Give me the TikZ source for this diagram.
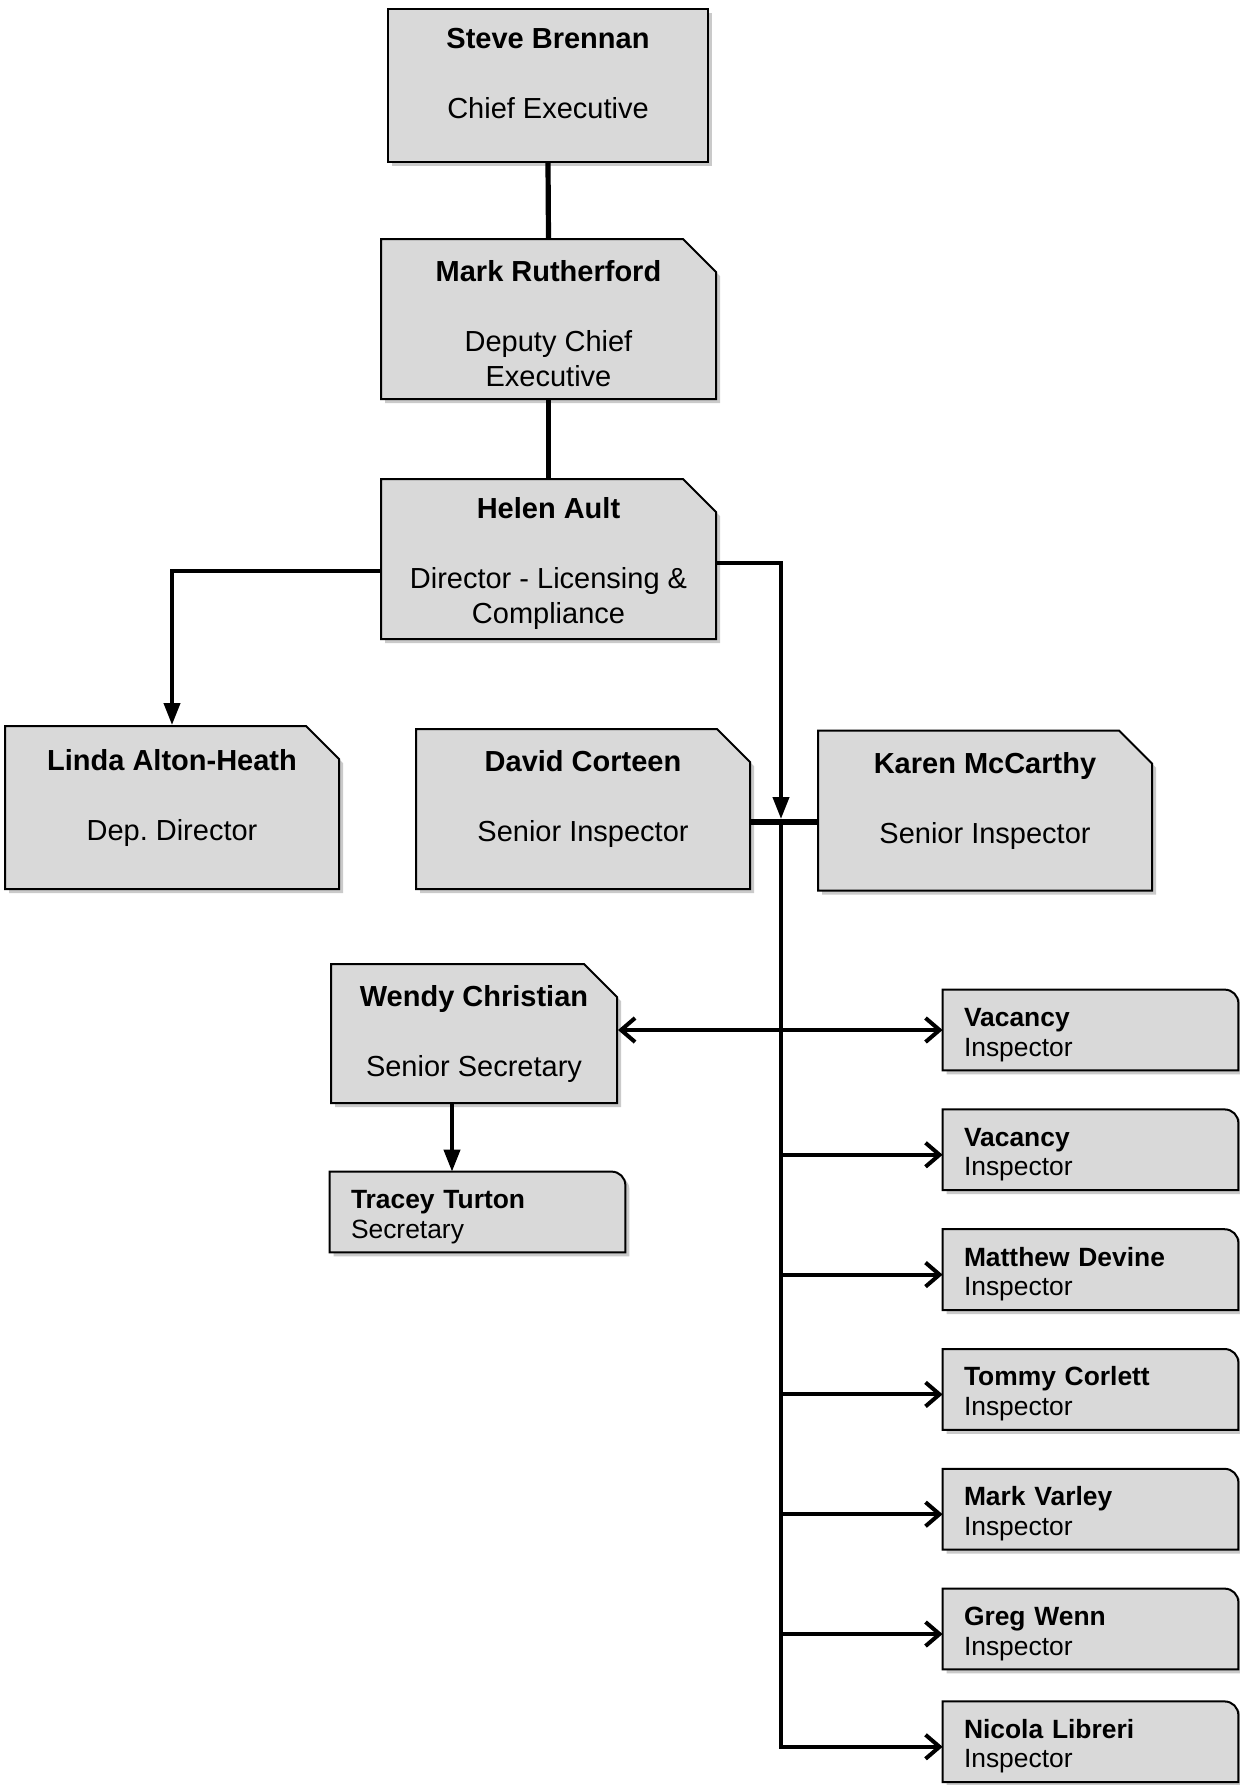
\documentclass[tikz,border=0pt]{standalone}
\usepackage{fontspec}
\setmainfont{Liberation Sans}
\usepackage{xcolor}
\usetikzlibrary{arrows.meta,positioning,shapes.misc,shadows}
\definecolor{boxgray}{RGB}{217,217,217}
\newcommand{\boxfont}{\fontsize{14.5pt}{17.5pt}\selectfont}
\newcommand{\insfont}{\fontsize{13.2pt}{14.8pt}\selectfont}
\newcommand{\bossname}[1]{\rule{0pt}{15pt}\textbf{#1}}
\newcommand{\insname}[1]{\rule{0pt}{14pt}\textbf{#1}}
\pgfdeclarelayer{background}
\pgfsetlayers{background,main}

\begin{document}
\begin{tikzpicture}[x=0.5pt, y=-0.5pt,
  boxshadow/.style={drop shadow={shadow xshift=2pt, shadow yshift=-2pt, opacity=0.35, fill=black!60}},
  plainbox/.style={draw, line width=1pt, fill=boxgray, boxshadow, align=center, font=\boxfont,
                   inner sep=0pt},
  cutbox/.style={plainbox, chamfered rectangle, chamfered rectangle corners=north east,
                 chamfered rectangle xsep=13pt},
  insbox/.style={minimum width=147.5pt, minimum height=40pt, text width=126.5pt, inner xsep=10.5pt,
                 inner ysep=0pt, align=left, font=\insfont},
  conn/.style={line width=2pt},
  topconn/.style={line width=2.6pt},
  tri/.style={-{Triangle[length=11pt, width=8pt]}},
  barb/.style={-{Straight Barb[length=7pt, width=12pt]}},
  node distance=19.5pt
]
\useasboundingbox (0,0) rectangle (1240,1785);

\node[plainbox, minimum width=160pt, minimum height=76.5pt] (steve) at (548,85.5)
  {\bossname{Steve Brennan}\\[17.5pt]Chief Executive\\\mbox{}};
\node[cutbox, minimum width=167.5pt, minimum height=80pt] (mark) at (548.5,319)
  {\bossname{Mark Rutherford}\\[17.5pt]Deputy Chief\\Executive};
\node[cutbox, minimum width=167.5pt, minimum height=80pt] (helen) at (548.5,559)
  {\bossname{Helen Ault}\\[17.5pt]Director - Licensing \&\\Compliance};
\node[cutbox, minimum width=167pt, minimum height=81.5pt] (linda) at (172,807.5)
  {\bossname{Linda Alton-Heath}\\[17.5pt]Dep.\ Director\\\mbox{}};
\node[cutbox, minimum width=167pt, minimum height=80pt] (david) at (583,809)
  {\bossname{David Corteen}\\[17.5pt]Senior Inspector\\\mbox{}};
\node[cutbox, minimum width=167pt, minimum height=80pt] (karen) at (985,810.5)
  {\bossname{Karen McCarthy}\\[17.5pt]Senior Inspector\\\mbox{}};
\node[cutbox, minimum width=143pt, minimum height=69.5pt] (wendy) at (474,1033.5)
  {\textbf{Wendy Christian}\\[17.5pt]Senior Secretary};

\node[insbox] (tracey) at (477.5,1212) {\insname{Tracey Turton}\\Secretary};
\node[insbox] (vac1) at (1090.5,1030) {\insname{Vacancy}\\Inspector};
\node[insbox, below=of vac1] (vac2) {\insname{Vacancy}\\Inspector};
\node[insbox, below=of vac2] (matt) {\insname{Matthew Devine}\\Inspector};
\node[insbox, below=of matt] (tommy) {\insname{Tommy Corlett}\\Inspector};
\node[insbox, below=of tommy] (varley) {\insname{Mark Varley}\\Inspector};
\node[insbox, below=of varley] (greg) {\insname{Greg Wenn}\\Inspector};
\node[insbox, below=16pt of greg] (nicola) {\insname{Nicola Libreri}\\Inspector};

\begin{pgfonlayer}{background}
\foreach \n in {tracey,vac1,vac2,matt,tommy,varley,greg,nicola}
  \draw[line width=1pt, fill=boxgray, boxshadow] (\n.south west) -- (\n.north west)
    -- ([xshift=-7pt]\n.north east)
    .. controls ([xshift=-3pt]\n.north east) and ([yshift=-3pt]\n.north east) .. ([yshift=-7pt]\n.north east)
    -- (\n.south east) -- cycle;
\end{pgfonlayer}

\coordinate (hub) at (781,819);

\draw[topconn] (steve.south) -- (mark.north);
\draw[topconn] (mark.south) -- (helen.north);
\draw[conn, tri] ([yshift=-2pt]helen.east) -| (hub);
\draw[conn, tri] ([yshift=-6pt]helen.west) -| (linda.north);
\draw[topconn] ([yshift=-1.5pt]david.east |- hub) -- ([yshift=-1.5pt]karen.west |- hub);
\draw[conn, barb] (hub) |- ([yshift=-2.5pt]nicola.west);
\foreach \n in {vac2,matt,tommy,varley,greg}
  \draw[conn, barb] ([yshift=-2.5pt]hub |- \n.west) -- ([yshift=-2.5pt]\n.west);
\draw[conn, barb] (hub |- vac1.west) -- (vac1.west);
\draw[conn, barb] (hub |- vac1.west) -- (wendy.east |- vac1.west);
\draw[conn, tri] ([xshift=-11pt]wendy.south) -- ([xshift=-11pt]wendy.south |- tracey.north);
\end{tikzpicture}
\end{document}
